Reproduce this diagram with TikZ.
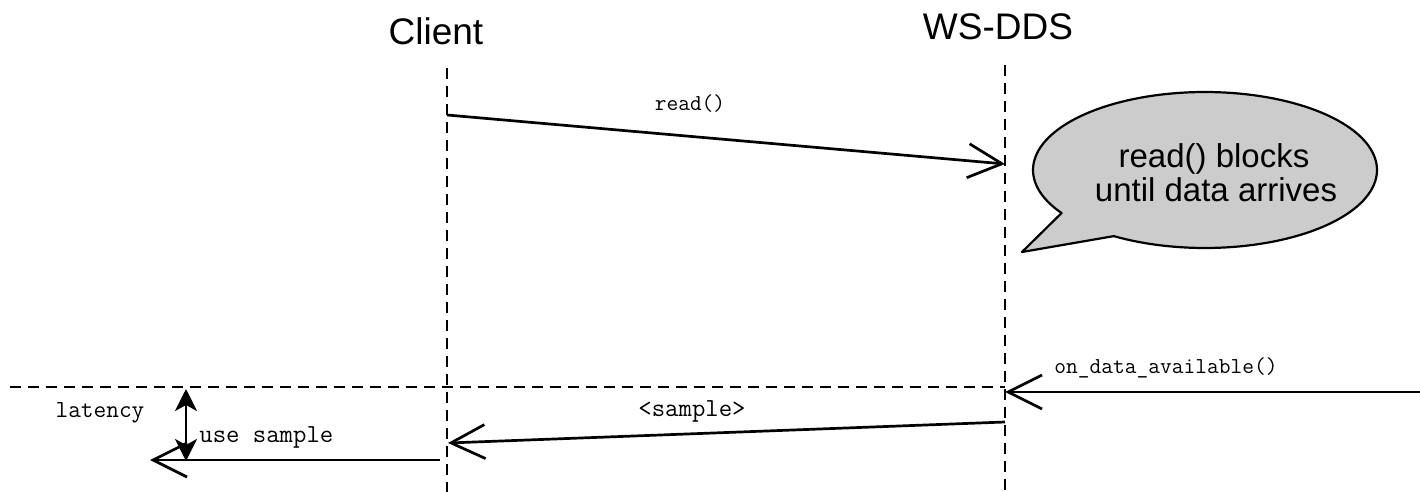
\documentclass[tikz,border=0pt]{standalone}
\usepackage{fontspec}
\setmainfont{Liberation Sans}
\usetikzlibrary{arrows.meta}
\definecolor{calloutgray}{RGB}{204,204,204}
\begin{document}
\begin{tikzpicture}[x=0.5pt,y=-0.5pt,
  title/.style={font=\fontsize{18.5}{22}\selectfont, anchor=base, inner sep=0pt},
  lifeline/.style={line width=1.25pt, dash pattern=on 5.5pt off 3.5pt},
  msg/.style={line width=1.35pt, -{Straight Barb[length=17pt,width=17pt]}},
  span/.style={line width=1.4pt, {Stealth[length=11pt,width=11pt,inset=3pt]}-{Stealth[length=11pt,width=11pt,inset=3pt]}},
  lbl/.style={font=\ttfamily\fontsize{11.4}{13}\selectfont, inner sep=0pt},
  biglbl/.style={font=\ttfamily\fontsize{13}{15}\selectfont, inner sep=0pt},
  note/.style={font=\fontsize{16.5}{20}\selectfont, anchor=base, inner sep=0pt}]
\useasboundingbox (0,0) rectangle (1420,492);

% participants
\node[title] (client) at (436,45) {Client};
\node[title] (wsdds) at (998,40) {WS-DDS};

% lifelines
\coordinate (cl-top) at (447,68);
\coordinate (cl-bot) at (447,492);
\coordinate (ws-top) at (1005,65);
\coordinate (ws-bot) at (1005,492);
\draw[lifeline] (cl-top) -- (cl-bot);
\draw[lifeline] (ws-top) -- (ws-bot);

% read() request
\coordinate (read-s) at (447,115);
\coordinate (read-e) at (1005,164);
\draw[msg] (read-s) -- (read-e);
\node[lbl] (lread) at (690,104) {read()};

% callout
\draw[fill=calloutgray, line width=1.1pt, line join=round]
  (1061.6,213.0) -- (1022,252) -- (1113.9,236.1)
  -- plot[domain=122:-213.5, samples=140, variable=\t]
     ({1205+172*cos(\t)}, {170+78*sin(\t)}) -- cycle;
\node[note] (note1) at (1214,168) {read() blocks};
\node[note] (note2) at (1216,202) {until data arrives};

% arrival of data
\coordinate (sync-l) at (10,387);
\coordinate (sync-r) at (1005,387);
\draw[lifeline] (sync-l) -- (sync-r);
\coordinate (oda-s) at (1420,392);
\coordinate (oda-e) at (1005,392);
\draw[msg] (oda-s) -- (oda-e);
\node[lbl, anchor=west] (loda) at (1054,368) {on\_data\_available()};

% sample returned to the client
\coordinate (smp-s) at (1005,422);
\coordinate (smp-e) at (448,443);
\draw[msg] (smp-s) -- (smp-e);
\node[biglbl] (lsmp) at (692,411) {<sample>};

% client uses the sample
\coordinate (use-s) at (440,460);
\coordinate (use-e) at (150,460);
\draw[msg] (use-s) -- (use-e);
\node[biglbl, anchor=west] (luse) at (199,437) {use sample};

% latency
\coordinate (lat-top) at (186,389);
\coordinate (lat-bot) at (186,461);
\draw[span] (lat-top) -- (lat-bot);
\node[font=\ttfamily\fontsize{12.3}{14}\selectfont, inner sep=0pt] (llat) at (100,413) {latency};
\end{tikzpicture}
\end{document}
